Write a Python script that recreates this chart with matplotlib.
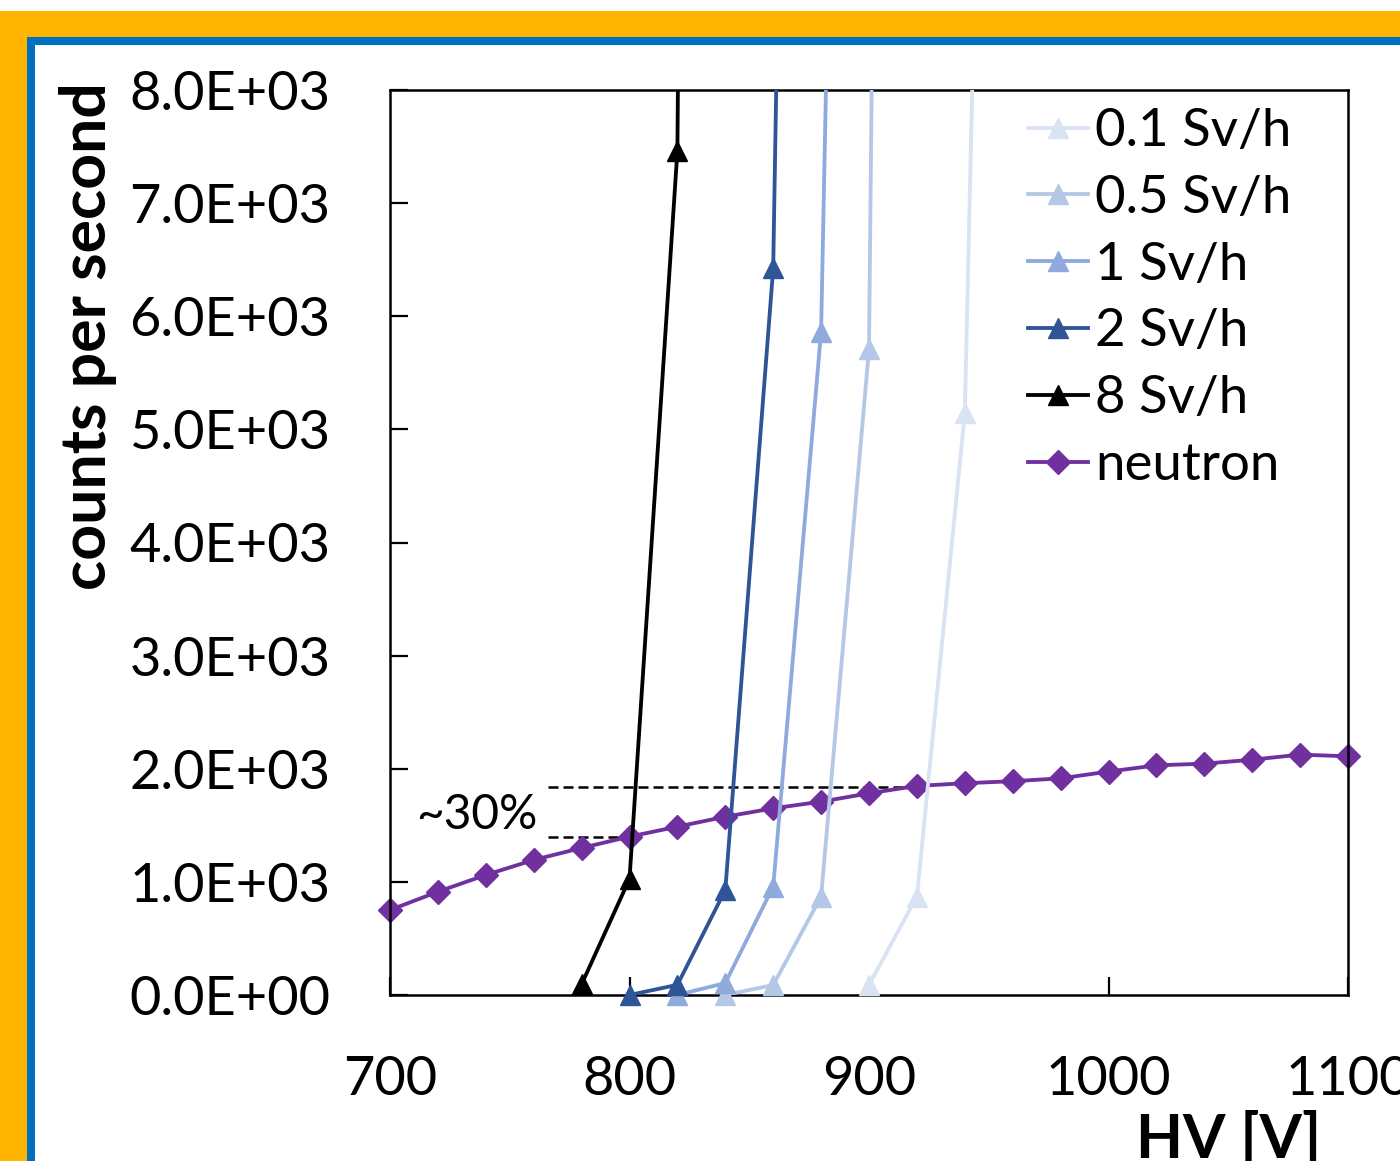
import matplotlib
matplotlib.use("Agg")
import matplotlib.pyplot as plt
from matplotlib.patches import Rectangle
import numpy as np

plt.rcParams["font.family"] = ["Lato", "DejaVu Sans"]

# HV [V] vs counts per second
hv_neutron = [700, 720, 740, 760, 780, 800, 820, 840, 860, 880, 900,
              920, 940, 960, 980, 1000, 1020, 1040, 1060, 1080, 1100]
neutron = [751, 913, 1061, 1194, 1300, 1400, 1488, 1576, 1650, 1709, 1783,
           1848, 1872, 1890, 1915, 1975, 2030, 2045, 2080, 2125, 2110]

hv_01 = [900, 920, 940, 960]
cps_01 = [88, 870, 5142, 23600]
hv_05 = [840, 860, 880, 900, 920]
cps_05 = [0, 88, 870, 5709, 47000]
hv_1 = [820, 840, 860, 880, 900]
cps_1 = [0, 106, 958, 5865, 27000]
hv_2 = [800, 820, 840, 860, 880]
cps_2 = [0, 90, 928, 6425, 31600]
hv_8 = [780, 800, 820, 840]
cps_8 = [95, 1026, 7462, 60000]

gamma_labels = ["0.1 Sv/h", "0.5 Sv/h", "1 Sv/h", "2 Sv/h", "8 Sv/h"]
gamma_colors = ["#DAE3F3", "#B4C7E7", "#8FAADC", "#2F5597", "#000000"]
gamma_hv = [hv_01, hv_05, hv_1, hv_2, hv_8]
gamma_cps = [cps_01, cps_05, cps_1, cps_2, cps_8]

# ~30% annotation levels
ann_hi = 1840
ann_lo = 1398
ann_x0, ann_x1_hi, ann_x1_lo = 766, 920, 800

W, H = 1400, 1161
fig = plt.figure(figsize=(W / 100, H / 100), dpi=100)
fig.patch.set_facecolor("white")
# slide frame: orange, blue border, white inside
fig.patches.append(Rectangle((0, 0), 1, 1 - 11 / H, transform=fig.transFigure,
                             facecolor="#FFB400", edgecolor="none", zorder=-3))
fig.patches.append(Rectangle((27 / W, 0), 1, 1 - 37 / H, transform=fig.transFigure,
                             facecolor="#0070C0", edgecolor="none", zorder=-2))
fig.patches.append(Rectangle((35 / W, 0), 1, 1 - 45 / H, transform=fig.transFigure,
                             facecolor="white", edgecolor="none", zorder=-1))

ax = fig.add_axes([390 / W, (H - 995) / H, 958 / W, 905 / H])
ax.set_facecolor("none")
ax.set_xlim(700, 1100)
ax.set_ylim(0, 8000)

ax.plot([ann_x0, ann_x1_hi], [ann_hi, ann_hi], color="black", lw=1.8,
        ls=(0, (4, 2)), zorder=1)
ax.plot([ann_x0, ann_x1_lo], [ann_lo, ann_lo], color="black", lw=1.8,
        ls=(0, (4, 2)), zorder=1)
ax.text(711, 1590, "~30%", fontsize=34.5, ha="left", va="center", zorder=5)

lw = 2.75
handles = []
for lab, col, x, y in zip(gamma_labels, gamma_colors, gamma_hv, gamma_cps):
    x = np.array(x)
    y = np.array(y)
    ax.plot(x, y, color=col, lw=lw, zorder=3)
    vis = y <= 8000
    ax.plot(x[vis], y[vis], ls="none", marker="^", ms=15, color=col,
            clip_on=False, zorder=4)
    h, = ax.plot([], [], color=col, lw=lw, marker="^", ms=15, label=lab)
    handles.append(h)

ax.plot(hv_neutron, neutron, color="#7030A0", lw=lw, zorder=2)
ax.plot(hv_neutron, neutron, ls="none", marker="D", ms=12.5, color="#7030A0",
        clip_on=False, zorder=2)
h, = ax.plot([], [], color="#7030A0", lw=lw, marker="D", ms=12.5, label="neutron")
handles.append(h)

ax.set_xticks([700, 800, 900, 1000, 1100])
ax.set_yticks(np.arange(0, 8001, 1000))
ax.set_yticklabels([f"{v:.1E}" for v in np.arange(0, 8001, 1000)])
ax.tick_params(axis="both", direction="in", length=13, width=1.6,
               labelsize=39, pad=43)
for s in ax.spines.values():
    s.set_linewidth(1.8)

leg = ax.legend(handles=handles, loc="upper left", bbox_to_anchor=(0.666, 0.980),
                frameon=False, fontsize=38, handlelength=1.14, handletextpad=0.13,
                labelspacing=0.375, borderpad=0, borderaxespad=0, numpoints=1)

fig.text(88 / W, 1 - 336 / H, "counts per second", rotation=90, fontsize=45,
         fontweight="bold", ha="center", va="center")
fig.text(1229 / W, 1 - 1158 / H, "HV [V]", fontsize=44, fontweight="bold",
         ha="center", va="baseline")

fig.savefig("out.png", dpi=100)
